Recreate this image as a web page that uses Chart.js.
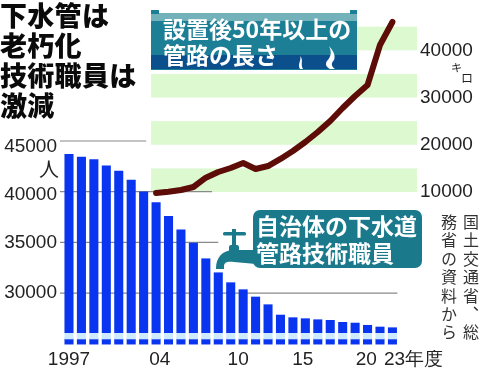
<!DOCTYPE html>
<html lang="ja">
<head>
<meta charset="utf-8">
<script src="https://cdn.jsdelivr.net/npm/chart.js@4"></script>
<style>
html, body { margin: 0; padding: 0; background: #fff; }
#wrap { position: relative; width: 480px; height: 377px; overflow: hidden; font-family: "Noto Sans CJK JP", sans-serif; }
canvas { position: absolute; left: 0; top: 0; }
svg { position: absolute; left: 0; top: 0; }
.t { position: absolute; white-space: nowrap; }
#title { left: 0; top: 0; font-size: 27px; line-height: 30px; font-weight: 900; color: #0a0a0a; letter-spacing: 0.3px; }
#b1 { left: 163px; top: 16px; font-size: 23px; line-height: 25.5px; font-weight: 700; color: #fff; z-index: 2; }
#b2 { left: 256px; top: 212px; font-size: 23px; line-height: 26.5px; font-weight: 700; color: #fff; z-index: 2; }
#src { left: 438px; top: 214px; writing-mode: vertical-rl; font-size: 16px; line-height: 22px; letter-spacing: 2.4px; color: #333; }
</style>
</head>
<body>
<div id="wrap">
<canvas id="myChart" width="480" height="377"></canvas>
<svg width="480" height="377">
  <rect x="151" y="13" width="206" height="57" fill="#1c7f95"/>
  <rect x="151" y="13" width="206" height="8" fill="#74b2bb"/>
  <rect x="151" y="55" width="206" height="14" fill="#0c4f8d"/>
  <rect x="151" y="10" width="8" height="4" fill="#1c7f95"/>
  <rect x="350" y="10" width="7" height="4" fill="#1c7f95"/>
  <path d="M300 56 C302 60 297 64 300 69 L303 69 C300 64 304 60 300 56Z" fill="#fff"/>
  <path d="M329 46 C332 52 331 57 327 61 C325 64 326 67 330 69 L335 69 C331 66 331 63 334 60 C336 55 333 51 329 46Z" fill="#fff"/>
  <rect x="253" y="210" width="169" height="58" rx="7" fill="#1a7a8b"/>
  <g fill="#1a7a8b">
    <rect x="223" y="232" width="23" height="3.5" rx="1.5"/>
    <rect x="232" y="229" width="4" height="22"/>
    <rect x="229" y="245" width="10" height="7" rx="2"/>
    <path d="M256 250 L234 250 C222 250 216 258 216 268 L216 269 L224 269 L224 266 C224 262 228 261 234 262 L256 264Z"/>
  </g>
</svg>
<div class="t" id="title">下水管は<br>老朽化<br>技術職員は<br>激減</div>
<div class="t" id="b1">設置後50年以上の<br>管路の長さ</div>
<div class="t" id="b2">自治体の下水道<br>管路技術職員</div>
<div class="t" style="left:39px;top:154px;font-size:20px;color:#222">人</div>
<div class="t" style="left:451px;top:59px;font-size:11px;color:#222">キ</div>
<div class="t" style="left:461px;top:69px;font-size:12px;color:#222">ロ</div>
<div class="t" id="src">国土交通省、総<br>務省の資料から</div>
</div>
<script>
// years
var years = [1997, 1998, 1999, 2000, 2001, 2002, 2003, 2004, 2005, 2006, 2007, 2008, 2009, 2010,
    2011, 2012, 2013, 2014, 2015, 2016, 2017, 2018, 2019, 2020, 2021, 2022, 2023];

// staff (left axis)
var staff = [43690, 43420, 43160, 42560, 42040, 41150, 40000, 38920, 37570, 36250, 34940, 33390, 32010, 31030,
    30340, 29620, 28860, 27840, 27580, 27480, 27380, 27320, 27120, 27050, 26830, 26660, 26590];

// pipe length (right axis), starts in 2004
var pipes = [null, null, null, null, null, null, null, 9790, 10060, 10420, 11060, 13030, 14230, 15080,
    16140, 14870, 15500, 16990, 18680, 20590, 22700, 25030, 27780, 30320, 32650, 41120, 45990];

// broken part of the staff axis
var breakTop = 26100;
var breakMid = 25480;
var stubBottom = 24970;

var xTickPos = [1997, 2004.3, 2010.6, 2015.8, 2020.9, 2024.7];
var xTickLabels = ['1997', '04', '10', '15', '20', '23年度'];
var leftTickPos = [44450, 39700, 35000, 30000];
var leftTickLabels = ['45000', '40000', '35000', '30000'];
var rightTicks = [40000, 30000, 20000, 10000];
var bands = [[10000, 15000], [20000, 25000], [30000, 35000], [40000, 45000]];
var gridValues = [45000, 40000, 35000, 30000];
var gridEnds = [2003.2, 2008.5, 2009, 2023.4];
var bandStart = 2003.6;

var tickFont = { family: '"Liberation Sans", sans-serif', size: 19 };
var noGrid = { display: false, drawTicks: false };

var backdrop = {
    id: 'backdrop',
    beforeDatasetsDraw: function (chart) {
        var c = chart.ctx, x = chart.scales.x, yl = chart.scales.yl, yr = chart.scales.yr;
        c.save();
        c.fillStyle = '#dcf9d0';
        var left = x.getPixelForValue(bandStart);
        bands.forEach(function (b) {
            var top = yr.getPixelForValue(b[1]);
            c.fillRect(left, top, x.right - left, yr.getPixelForValue(b[0]) - top);
        });
        c.strokeStyle = '#8a8a8a';
        c.lineWidth = 1.2;
        gridValues.forEach(function (v, i) {
            var y = yl.getPixelForValue(v);
            c.beginPath();
            c.moveTo(x.left, y);
            c.lineTo(x.getPixelForValue(gridEnds[i]), y);
            c.stroke();
        });
        c.restore();
    }
};

function fixWidth(w) {
    return function (scale) {
        scale.width = w;
        scale.paddingTop = 0;
        scale.paddingBottom = 0;
    };
}

var chart = new Chart(document.getElementById('myChart').getContext('2d'), {
    type: 'bar',
    data: {
        labels: years,
        datasets: [
            {
                type: 'line', data: pipes, yAxisID: 'yr', order: 0,
                borderColor: '#5e0c08', borderWidth: 6, pointRadius: 0,
                borderCapStyle: 'round', borderJoinStyle: 'round', tension: 0
            },
            {
                data: staff.map(function (v) { return [breakTop, v]; }),
                yAxisID: 'yl', order: 1, backgroundColor: '#0a35f0', barThickness: 8.4
            },
            {
                data: staff.map(function () { return [breakMid, breakTop]; }),
                yAxisID: 'yl', order: 2, backgroundColor: '#cdeaff', barThickness: 8.4
            },
            {
                data: staff.map(function () { return [stubBottom, breakMid]; }),
                yAxisID: 'yl', order: 3, backgroundColor: '#0a35f0', barThickness: 8.4
            }
        ]
    },
    options: {
        responsive: false,
        animation: false,
        layout: { padding: { top: 10 } },
        plugins: { legend: { display: false }, tooltip: { enabled: false } },
        datasets: { bar: { grouped: false } },
        scales: {
            x: {
                type: 'linear', min: 1996.277, max: 2024.975, offset: false,
                grid: noGrid, border: { display: false },
                afterBuildTicks: function (s) { s.ticks = xTickPos.map(function (v) { return { value: v }; }); },
                afterFit: function (s) { s.height = 27; s.paddingLeft = 0; s.paddingRight = 0; },
                ticks: {
                    autoSkip: false, maxRotation: 0, padding: -2, color: '#222', font: tickFont,
                    callback: function (v, i) { return xTickLabels[i]; }
                }
            },
            yl: {
                position: 'left', min: 24393, max: 57917,
                grid: noGrid, border: { display: false },
                afterBuildTicks: function (s) { s.ticks = leftTickPos.map(function (v) { return { value: v }; }); },
                afterFit: fixWidth(60),
                ticks: {
                    padding: 3, color: '#222', font: tickFont,
                    callback: function (v, i) { return leftTickLabels[i]; }
                }
            },
            yr: {
                position: 'right', min: -23450, max: 48530,
                grid: noGrid, border: { display: false },
                afterBuildTicks: function (s) { s.ticks = rightTicks.map(function (v) { return { value: v }; }); },
                afterFit: fixWidth(63),
                ticks: { padding: 3, color: '#222', font: tickFont, callback: function (v) { return String(v); } }
            }
        }
    },
    plugins: [backdrop]
});
</script>
</body>
</html>
